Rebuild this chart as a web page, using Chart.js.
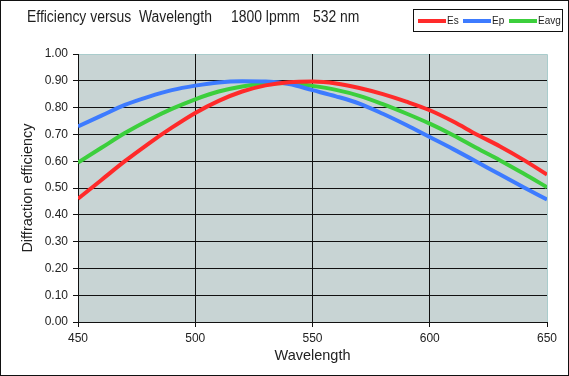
<!DOCTYPE html>
<html>
<head>
<meta charset="utf-8">
<script src="https://cdn.jsdelivr.net/npm/chart.js@4/dist/chart.umd.min.js"></script>
<style>
  html, body { margin: 0; padding: 0; background: #fff; }
  #wrap { position: relative; width: 569px; height: 376px; overflow: hidden; font-family: "Liberation Sans", Arial, sans-serif; }
  #c { position: absolute; left: 0; top: 0; }
  #frame { position: absolute; left: 0; top: 0; width: 569px; height: 376px; box-sizing: border-box; border: 1px solid #111; pointer-events: none; }
  .tt { position: absolute; top: 8px; font-size: 16px; color: #1e1e1e; white-space: pre; transform: scaleX(0.87); transform-origin: 0 0; }
  #legend { position: absolute; left: 413px; top: 9px; width: 150px; height: 23px; box-sizing: border-box; border: 1px solid #111; background: #fff; }
  .li { position: absolute; top: 5px; font-size: 10px; color: #1e1e1e; }
  .sw { position: absolute; top: 9px; height: 4px; width: 28px; }
</style>
</head>
<body>
<div id="wrap">
  <canvas id="c" width="569" height="376"></canvas>
  <div class="tt" style="left:27px">Efficiency versus  Wavelength</div>
  <div class="tt" style="left:231px">1800 lpmm</div>
  <div class="tt" style="left:313px">532 nm</div>
  <div id="legend">
    <div class="sw" style="left:4px;background:#ff2a2a"></div><div class="li" style="left:33px">Es</div>
    <div class="sw" style="left:49px;background:#3d7bff"></div><div class="li" style="left:78px">Ep</div>
    <div class="sw" style="left:95px;background:#3ccf3c"></div><div class="li" style="left:124px">Eavg</div>
  </div>
  <div id="frame"></div>
</div>
<script>
const wavelengths = [450,460,470,480,490,500,510,520,530,540,550,560,570,580,590,600,610,620,630,640,650];
const es   = [0.460,0.530,0.600,0.665,0.725,0.780,0.825,0.860,0.883,0.895,0.897,0.890,0.873,0.850,0.822,0.790,0.748,0.700,0.655,0.605,0.550];
const ep   = [0.730,0.770,0.810,0.840,0.865,0.882,0.894,0.898,0.897,0.888,0.865,0.842,0.815,0.777,0.735,0.690,0.645,0.598,0.550,0.503,0.457];
const eavg = [0.595,0.650,0.705,0.753,0.795,0.831,0.860,0.879,0.890,0.892,0.881,0.866,0.844,0.813,0.778,0.740,0.697,0.649,0.603,0.554,0.503];
const yTicks = [0,0.1,0.2,0.3,0.4,0.5,0.6,0.7,0.8,0.9,1.0];
const xTicks = [450,500,550,600,650];

const pts = arr => wavelengths.map((w, i) => ({x: w, y: arr[i]}));

const plotBg = {
  id: 'plotBg',
  beforeDraw(chart) {
    const {ctx, chartArea: a} = chart;
    ctx.save();
    ctx.fillStyle = '#c8d4d4';
    ctx.fillRect(a.left, a.top, a.right - a.left, a.bottom - a.top);
    ctx.strokeStyle = '#a9cccc';
    ctx.lineWidth = 1;
    ctx.beginPath();
    ctx.moveTo(a.left, a.top + 0.5); ctx.lineTo(a.right + 0.5, a.top + 0.5);
    ctx.lineTo(a.right + 0.5, a.bottom);
    ctx.stroke();
    ctx.restore();
  }
};

const tickFont = {family: '"Liberation Sans", Arial, sans-serif', size: 12};
const lineDs = (label, data, color) => ({
  label, data: pts(data), borderColor: color, backgroundColor: color,
  borderWidth: 4, pointRadius: 0, tension: 0.4, cubicInterpolationMode: 'monotone', fill: false
});

new Chart(document.getElementById('c'), {
  type: 'line',
  data: {
    datasets: [
      lineDs('Es', es, '#ff2a2a'),
      lineDs('Ep', ep, '#3d7bff'),
      lineDs('Eavg', eavg, '#3ccf3c')
    ]
  },
  options: {
    responsive: false,
    animation: false,
    layout: { padding: { top: 54, right: 22, left: 0, bottom: 0 } },
    plugins: { legend: { display: false }, title: { display: false }, tooltip: { enabled: false } },
    scales: {
      x: {
        type: 'linear', min: 450, max: 650,
        afterBuildTicks: s => { s.ticks = xTicks.map(v => ({value: v})); },
        afterFit: s => { s.height = 54; },
        ticks: { font: tickFont, color: '#222', padding: 4, maxRotation: 0 },
        grid: {
          color: c => (c.tick && c.tick.value === 650) ? 'rgba(0,0,0,0)' : (c.tick && c.tick.value === 450 ? 'rgba(0,0,0,0)' : '#111'),
          tickColor: '#111', tickLength: 5, lineWidth: 1, drawTicks: true
        },
        border: { color: '#111', width: 1 },
        title: { display: true, text: 'Wavelength', color: '#222', font: {family: '"Liberation Sans", Arial, sans-serif', size: 14.5}, padding: {top: 0, bottom: 11} }
      },
      y: {
        min: 0, max: 1,
        afterBuildTicks: s => { s.ticks = yTicks.map(v => ({value: v})); },
        afterFit: s => { s.width = 78; },
        ticks: { font: tickFont, color: '#222', padding: 5, callback: v => Number(v).toFixed(2) },
        grid: {
          color: c => (c.tick && (c.tick.value === 1 || c.tick.value === 0)) ? 'rgba(0,0,0,0)' : '#111',
          tickColor: '#111', tickLength: 5, lineWidth: 1, drawTicks: true
        },
        border: { color: '#111', width: 1 },
        title: { display: true, text: 'Diffraction efficiency', color: '#222', font: {family: '"Liberation Sans", Arial, sans-serif', size: 14.5}, padding: {top: 19, bottom: 0} }
      }
    }
  },
  plugins: [plotBg]
});
</script>
</body>
</html>
